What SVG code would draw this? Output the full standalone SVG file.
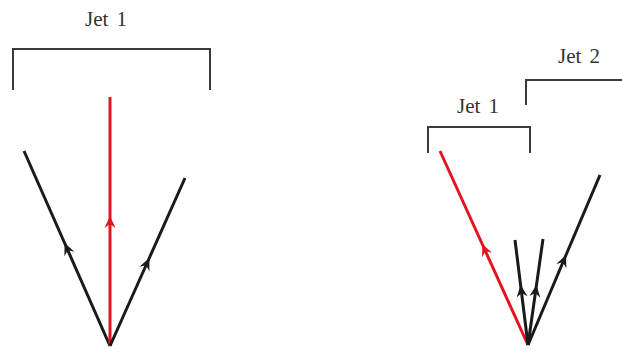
<svg xmlns="http://www.w3.org/2000/svg" width="622" height="350" viewBox="0 0 622 350">
<style>
.lbl{font-family:"Liberation Serif","DejaVu Serif",serif;font-size:21px;fill:#333;text-anchor:middle;word-spacing:3px}
.br{fill:none;stroke:#3a3a3a;stroke-width:2}
.blk{fill:none;stroke:#1a1a1a;stroke-width:3;marker-mid:url(#ak)}
.red{fill:none;stroke:#e3141e;stroke-width:3;marker-mid:url(#ar)}
</style>
<defs>
<marker id="ak" markerUnits="userSpaceOnUse" markerWidth="16" markerHeight="16" viewBox="-14 -8 16 16" refX="0" refY="0" orient="auto"><path d="M0,0 L-12,-5.5 L-8,0 L-12,5.5 Z" fill="#1a1a1a"/></marker>
<marker id="ar" markerUnits="userSpaceOnUse" markerWidth="16" markerHeight="16" viewBox="-14 -8 16 16" refX="0" refY="0" orient="auto"><path d="M0,0 L-12,-5.5 L-8,0 L-12,5.5 Z" fill="#e3141e"/></marker>
</defs>
<g id="jet1-left">
<path class="br" d="M13,90 V49 H210 V90"/>
<text class="lbl" x="106" y="26">Jet 1</text>
</g>
<g id="jet1-right">
<path class="br" d="M428,153 V127 H530 V153"/>
<text class="lbl" x="478" y="113">Jet 1</text>
</g>
<g id="jet2-right">
<path class="br" d="M526,105 V80 H622"/>
<text class="lbl" x="579" y="63">Jet 2</text>
</g>
<g id="connectors">
<path class="blk" d="M110,346 L64.6,243 L24,151"/>
<path class="red" d="M110,346 L110,216 L110,97"/>
<path class="blk" d="M110,346 L149.3,258 L185,178"/>
<path class="red" d="M528,345 L482.2,244 L440,151"/>
<path class="blk" d="M528,345 L566,255 L600,175"/>
<path class="blk" d="M528,345 L520.6,285 L515,240"/>
<path class="blk" d="M528,345 L536.5,285 L543,239"/>
</g>
</svg>
